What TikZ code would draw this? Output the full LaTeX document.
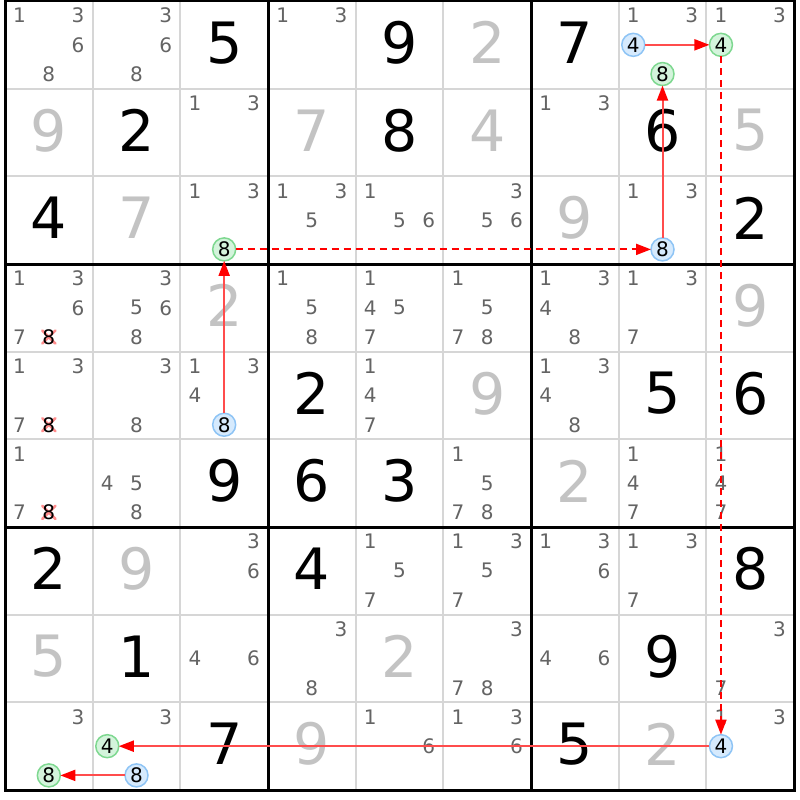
\documentclass[tikz,border=0pt]{standalone}
\usepackage{fontspec}
\setmainfont{DejaVu Sans}
\usetikzlibrary{arrows.meta}
\definecolor{solvedgrey}{HTML}{C3C3C3}
\definecolor{candgrey}{HTML}{646464}
\definecolor{thinline}{HTML}{D6D6D6}
\definecolor{bluefill}{HTML}{D6EAFD}
\definecolor{blueedge}{HTML}{8EC4F5}
\definecolor{greenfill}{HTML}{D4F4DC}
\definecolor{greenedge}{HTML}{7ED890}
\definecolor{linkred}{HTML}{FF0000}
\definecolor{linkpale}{HTML}{FF4C4C}
\definecolor{crossred}{HTML}{FF8C8C}
\def\W{87.667}
\tikzset{
  gridthin/.style={draw=thinline, line width=2pt},
  gridthick/.style={draw=black, line width=3pt},
  givendig/.style={font=\fontsize{57}{57}\selectfont, text=black, inner sep=0pt},
  solveddig/.style={font=\fontsize{57}{57}\selectfont, text=solvedgrey, inner sep=0pt},
  canddig/.style={font=\fontsize{20}{20}\selectfont, text=candgrey, inner sep=0pt},
  crossdig/.style={font=\fontsize{20}{20}\selectfont, text=black, inner sep=0pt},
  bluecand/.style={circle, draw=blueedge, fill=bluefill, line width=1.5pt, minimum size=23pt, inner sep=0pt, outer sep=0pt, font=\fontsize{20}{20}\selectfont, text=black},
  greencand/.style={circle, draw=greenedge, fill=greenfill, line width=1.5pt, minimum size=23pt, inner sep=0pt, outer sep=0pt, font=\fontsize{20}{20}\selectfont, text=black},
  solidlink/.style={draw=linkpale, line width=2pt, -{Triangle[length=15pt,width=11pt,color=linkred]}},
  dashlink/.style={draw=linkred, line width=2pt, dash pattern=on 7pt off 5pt, -{Triangle[length=15pt,width=11pt,color=linkred]}},
  crossmark/.style={draw=crossred, line width=2.6pt, line cap=round}
}
\begin{document}
\begin{tikzpicture}[x=1pt,y=-1pt]
\useasboundingbox[fill=white] (0,0) rectangle (800,800);
% thin grid lines
\foreach \i in {1,2,4,5,7,8} {
  \draw[gridthin] ({5+\i*\W},1) -- ({5+\i*\W},{1+9*\W});
  \draw[gridthin] (5,{1+\i*\W}) -- ({5+9*\W},{1+\i*\W});
}
% thick box lines
\foreach \i in {3,6} {
  \draw[gridthick] ({5+\i*\W},1) -- ({5+\i*\W},{1+9*\W});
  \draw[gridthick] (5,{1+\i*\W}) -- ({5+9*\W},{1+\i*\W});
}
\draw[gridthick] (5,1) rectangle ({5+9*\W},{1+9*\W});
% given digits
\foreach \r/\c/\d in {0/2/5,0/4/9,0/6/7,1/1/2,1/4/8,1/7/6,2/0/4,2/8/2,4/3/2,4/7/5,4/8/6,5/2/9,5/3/6,5/4/3,6/0/2,6/3/4,6/8/8,7/1/1,7/7/9,8/2/7,8/6/5} {
  \node[givendig] (given-\r-\c) at ({5+\c*\W+\W/2},{1+\r*\W+\W/2-2}) {\d};
}
% solved digits
\foreach \r/\c/\d in {0/5/2,1/0/9,1/3/7,1/5/4,1/8/5,2/1/7,2/6/9,3/2/2,3/8/9,4/5/9,5/6/2,6/1/9,7/0/5,7/4/2,8/3/9,8/7/2} {
  \node[solveddig] (solved-\r-\c) at ({5+\c*\W+\W/2},{1+\r*\W+\W/2-2}) {\d};
}
% plain candidates
\foreach \r/\c/\d in {
  0/0/1,0/0/3,0/0/6,0/0/8, 0/1/3,0/1/6,0/1/8, 0/3/1,0/3/3, 0/7/1,0/7/3, 0/8/1,0/8/3,
  1/2/1,1/2/3, 1/6/1,1/6/3,
  2/2/1,2/2/3, 2/3/1,2/3/3,2/3/5, 2/4/1,2/4/5,2/4/6, 2/5/3,2/5/5,2/5/6, 2/7/1,2/7/3,
  3/0/1,3/0/3,3/0/6,3/0/7, 3/1/3,3/1/5,3/1/6,3/1/8, 3/3/1,3/3/5,3/3/8, 3/4/1,3/4/4,3/4/5,3/4/7,
  3/5/1,3/5/5,3/5/7,3/5/8, 3/6/1,3/6/3,3/6/4,3/6/8, 3/7/1,3/7/3,3/7/7,
  4/0/1,4/0/3,4/0/7, 4/1/3,4/1/8, 4/2/1,4/2/3,4/2/4, 4/4/1,4/4/4,4/4/7, 4/6/1,4/6/3,4/6/4,4/6/8,
  5/0/1,5/0/7, 5/1/4,5/1/5,5/1/8, 5/5/1,5/5/5,5/5/7,5/5/8, 5/7/1,5/7/4,5/7/7, 5/8/1,5/8/4,5/8/7,
  6/2/3,6/2/6, 6/4/1,6/4/5,6/4/7, 6/5/1,6/5/3,6/5/5,6/5/7, 6/6/1,6/6/3,6/6/6, 6/7/1,6/7/3,6/7/7,
  7/2/4,7/2/6, 7/3/3,7/3/8, 7/5/3,7/5/7,7/5/8, 7/6/4,7/6/6, 7/8/3,7/8/7,
  8/0/3, 8/1/3, 8/4/1,8/4/6, 8/5/1,8/5/3,8/5/6, 8/8/1,8/8/3} {
  \pgfmathsetmacro{\cx}{5+\c*\W+(2*mod(\d-1,3)+1)*\W/6}
  \pgfmathsetmacro{\cy}{1+\r*\W+(2*int((\d-1)/3)+1)*\W/6}
  \node[canddig] (cand-\r-\c-\d) at (\cx,\cy) {\d};
}
% eliminated candidates
\foreach \r/\c/\d in {3/0/8,4/0/8,5/0/8} {
  \pgfmathsetmacro{\cx}{5+\c*\W+(2*mod(\d-1,3)+1)*\W/6}
  \pgfmathsetmacro{\cy}{1+\r*\W+(2*int((\d-1)/3)+1)*\W/6}
  \draw[crossmark] (\cx-6.5,\cy-6.5) -- (\cx+6.5,\cy+6.5);
  \draw[crossmark] (\cx-6.5,\cy+6.5) -- (\cx+6.5,\cy-6.5);
  \node[crossdig] (elim-\r-\c-\d) at (\cx,\cy) {\d};
}
% highlighted candidates
\foreach \r/\c/\d/\nm in {0/7/4/b074,2/7/8/b278,4/2/8/b428,8/1/8/b818,8/8/4/b884} {
  \pgfmathsetmacro{\cx}{5+\c*\W+(2*mod(\d-1,3)+1)*\W/6}
  \pgfmathsetmacro{\cy}{1+\r*\W+(2*int((\d-1)/3)+1)*\W/6}
  \node[bluecand] (\nm) at (\cx,\cy) {\d};
}
\foreach \r/\c/\d/\nm in {0/7/8/g078,0/8/4/g084,2/2/8/g228,8/0/8/g808,8/1/4/g814} {
  \pgfmathsetmacro{\cx}{5+\c*\W+(2*mod(\d-1,3)+1)*\W/6}
  \pgfmathsetmacro{\cy}{1+\r*\W+(2*int((\d-1)/3)+1)*\W/6}
  \node[greencand] (\nm) at (\cx,\cy) {\d};
}
% links
\draw[solidlink] (b074) -- (g084);
\draw[dashlink] (g084) -- (b884);
\draw[solidlink] (b884) -- (g814);
\draw[solidlink] (b818) -- (g808);
\draw[solidlink] (b428) -- (g228);
\draw[dashlink] (g228) -- (b278);
\draw[solidlink] (b278) -- (g078);
\end{tikzpicture}
\end{document}
